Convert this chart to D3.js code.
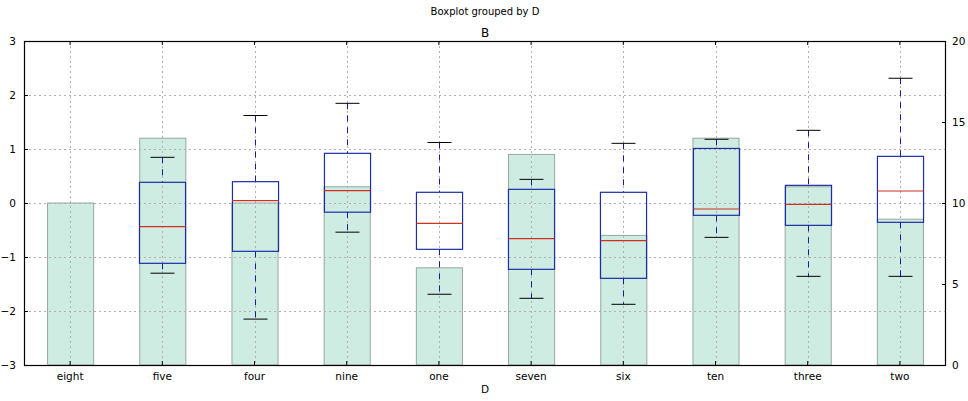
<!DOCTYPE html>
<html><head><meta charset="utf-8">
<script src="https://cdn.jsdelivr.net/npm/d3@7"></script>
<style>body{margin:0;background:#fff}svg{display:block}text{font-family:"DejaVu Sans",sans-serif;fill:#000}</style>
</head><body><svg id="c" width="968" height="401"></svg>
<script>
const categories = ["eight","five","four","nine","one","seven","six","ten","three","two"];
const barValues = [10,14,10,11,6,13,8,14,11,9];
// box stats: [lowCap, q1, median, q3, highCap]; null = no data
const whiskerLow  = [null,-1.30,-2.15,-0.54,-1.69,-1.765,-1.876,-0.636,-1.358,-1.358];
const q1Values    = [null,-1.117,-0.895,-0.17,-0.858,-1.228,-1.395,-0.228,-0.414,-0.358];
const medianValues= [null,-0.438,0.043,0.228,-0.377,-0.66,-0.698,-0.111,-0.025,0.222];
const q3Values    = [null,0.383,0.395,0.92,0.198,0.253,0.198,1.01,0.327,0.864];
const whiskerHigh = [null,0.846,1.62,1.846,1.12,0.438,1.105,1.18,1.346,2.31];
const leftTicks = [-3,-2,-1,0,1,2,3];
const rightTicks = [0,5,10,15,20];

const svg = d3.select("#c");
const L=24,R=946,T=41,B=365;
const x = d3.scaleBand().domain(categories).range([L,R]).padding(0);
const y = d3.scaleLinear().domain([-3,3]).range([B,T]);
const y2 = d3.scaleLinear().domain([0,20]).range([B,T]);
const cx = d => x(d)+x.bandwidth()/2;
const bw = x.bandwidth()*0.5;

// bars (secondary axis)
svg.append("g").selectAll("rect").data(categories).join("rect")
  .attr("x",d=>cx(d)-bw/2+0.5).attr("width",bw)
  .attr("y",(d,i)=>y2(barValues[i])).attr("height",(d,i)=>B-y2(barValues[i]))
  .attr("fill","#cfece2").attr("stroke","#97a8a0").attr("stroke-width",1);

// grid
const grid = svg.append("g").attr("stroke","#b0b0b0").attr("stroke-dasharray","2,3").attr("stroke-width",1);
leftTicks.forEach(t=>grid.append("line").attr("x1",L).attr("x2",R).attr("y1",Math.round(y(t))+0.5).attr("y2",Math.round(y(t))+0.5));
categories.forEach(c=>grid.append("line").attr("y1",T).attr("y2",B).attr("x1",Math.round(cx(c))+0.5).attr("x2",Math.round(cx(c))+0.5));

// boxes
const bx = svg.append("g");
categories.forEach((c,i)=>{
  if(q1Values[i]==null) return;
  const xc=Math.round(cx(c))+0.5;
  bx.append("line").attr("x1",xc).attr("x2",xc).attr("y1",y(whiskerHigh[i])).attr("y2",y(q3Values[i]))
    .attr("stroke","#1a1aa0").attr("stroke-dasharray","6,6");
  bx.append("line").attr("x1",xc).attr("x2",xc).attr("y1",y(q1Values[i])).attr("y2",y(whiskerLow[i]))
    .attr("stroke","#1a1aa0").attr("stroke-dasharray","6,6");
  [whiskerHigh[i],whiskerLow[i]].forEach(v=>bx.append("line").attr("x1",xc-12).attr("x2",xc+12)
    .attr("y1",y(v)).attr("y2",y(v)).attr("stroke","#000").attr("stroke-width",1));
  bx.append("rect").attr("x",xc-bw/2).attr("width",bw).attr("y",y(q3Values[i])).attr("height",y(q1Values[i])-y(q3Values[i]))
    .attr("fill","none").attr("stroke","#1c2fa5").attr("stroke-width",1.2);
  bx.append("line").attr("x1",xc-bw/2).attr("x2",xc+bw/2).attr("y1",y(medianValues[i])).attr("y2",y(medianValues[i]))
    .attr("stroke","#d03020").attr("stroke-width",1.2);
});

// axes
const axL = svg.append("g").attr("transform",`translate(${L},0)`).call(d3.axisLeft(y).tickValues(leftTicks).tickSize(-4).tickPadding(8).tickFormat(d=>d<0?"\u2212"+(-d):d));
const axR = svg.append("g").attr("transform",`translate(${R},0)`).call(d3.axisRight(y2).tickValues(rightTicks).tickSize(-4).tickPadding(6));
const axB = svg.append("g").attr("transform",`translate(0,${B})`).call(d3.axisBottom(x).tickSize(-4).tickPadding(8));
const axT = svg.append("g").attr("transform",`translate(0,${T})`).call(d3.axisTop(x).tickSize(-4).tickFormat(""));
[axL,axR,axB,axT].forEach(a=>{a.select(".domain").remove();a.selectAll("text").attr("font-size",10.5).attr("font-family","DejaVu Sans");a.selectAll("line").attr("stroke","#000");});
svg.append("rect").attr("x",L+0.5).attr("y",T+0.5).attr("width",R-L-1).attr("height",B-T).attr("fill","none").attr("stroke","#000").attr("stroke-width",1.2);

svg.append("text").attr("x",(L+R)/2).attr("y",15).attr("text-anchor","middle").attr("font-size",10).text("Boxplot grouped by D");
svg.append("text").attr("x",(L+R)/2).attr("y",37).attr("text-anchor","middle").attr("font-size",12).text("B");
svg.append("text").attr("x",(L+R)/2).attr("y",393).attr("text-anchor","middle").attr("font-size",10.5).text("D");
</script></body></html>
